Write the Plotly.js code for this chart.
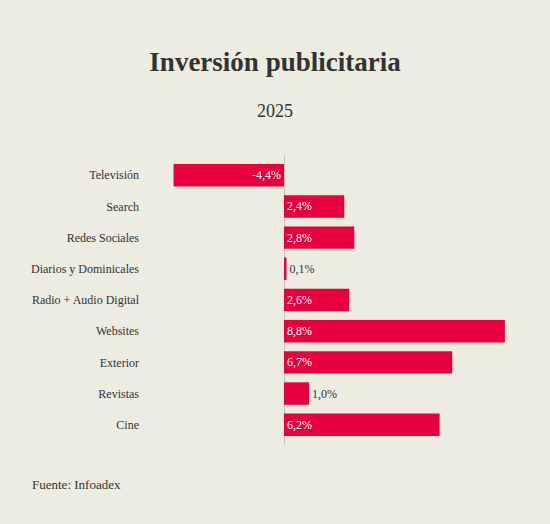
<!DOCTYPE html>
<html>
<head>
<meta charset="utf-8">
<script src="https://cdn.plot.ly/plotly-3.0.1.min.js"></script>
<style>html,body{margin:0;padding:0;background:#edece1;}#chart{width:550px;height:524px;}</style>
</head>
<body>
<div id="chart"></div>
<script>
const categories = ["Televisión","Search","Redes Sociales","Diarios y Dominicales","Radio + Audio Digital","Websites","Exterior","Revistas","Cine"];
const values = [-4.4, 2.4, 2.8, 0.1, 2.6, 8.8, 6.7, 1.0, 6.2];
const titleText = "Inversión publicitaria";
const subtitleText = "2025";
const sourceText = "Fuente: Infoadex";

const font = "Liberation Serif";
const trace = {
  type: "bar",
  orientation: "h",
  y: categories,
  x: values,
  marker: {color: "#e8003d"},
  texttemplate: "%{x:.1f}%",
  textposition: "auto",
  insidetextanchor: "start",
  insidetextfont: {family: font, size: 12, color: "#ffffff"},
  outsidetextfont: {family: font, size: 12, color: "#333333"},
  cliponaxis: false,
  hoverinfo: "none"
};
const plotL = 148, plotR = 30, plotT = 155, plotB = 79;
const plotW = 550 - plotL - plotR, plotH = 524 - plotT - plotB;
function px2x(px){return (px - plotL)/plotW;}
function py2y(py){return (524 - plotB - py)/plotH;}
const layout = {
  width: 550, height: 524,
  paper_bgcolor: "#edece1", plot_bgcolor: "#edece1",
  separators: ",.",
  font: {family: font, color: "#333333", size: 12},
  margin: {l: plotL, r: plotR, t: plotT, b: plotB},
  bargap: 0.28,
  showlegend: false,
  title: {text: "<b>" + titleText + "</b>", font: {family: font, size: 27, color: "#333333"},
          x: 0.5, xref: "container", xanchor: "center", y: 1 - 62/524, yref: "container", yanchor: "middle"},
  xaxis: {range: [(plotL-284)/25.1, (550-plotR-284)/25.1], showgrid: false, showticklabels: false, ticks: "",
          zeroline: true, zerolinecolor: "#c4c3b8", zerolinewidth: 1, fixedrange: true},
  yaxis: {autorange: false, range: [8.65, -0.65], showgrid: false, zeroline: false, ticks: "",
          ticklabelstandoff: 8, tickfont: {family: font, size: 12, color: "#333333"}},
  annotations: [
    {text: subtitleText, xref: "paper", yref: "paper", x: px2x(275), y: py2y(111), xanchor: "center", yanchor: "middle",
     showarrow: false, font: {family: font, size: 18, color: "#333333"}},
    {text: sourceText, xref: "paper", yref: "paper", x: px2x(30), y: py2y(484), xanchor: "left", yanchor: "middle",
     showarrow: false, font: {family: font, size: 13, color: "#333333"}}
  ]
};
Plotly.newPlot("chart", [trace], layout, {displayModeBar: false, staticPlot: true});
</script>
</body>
</html>
